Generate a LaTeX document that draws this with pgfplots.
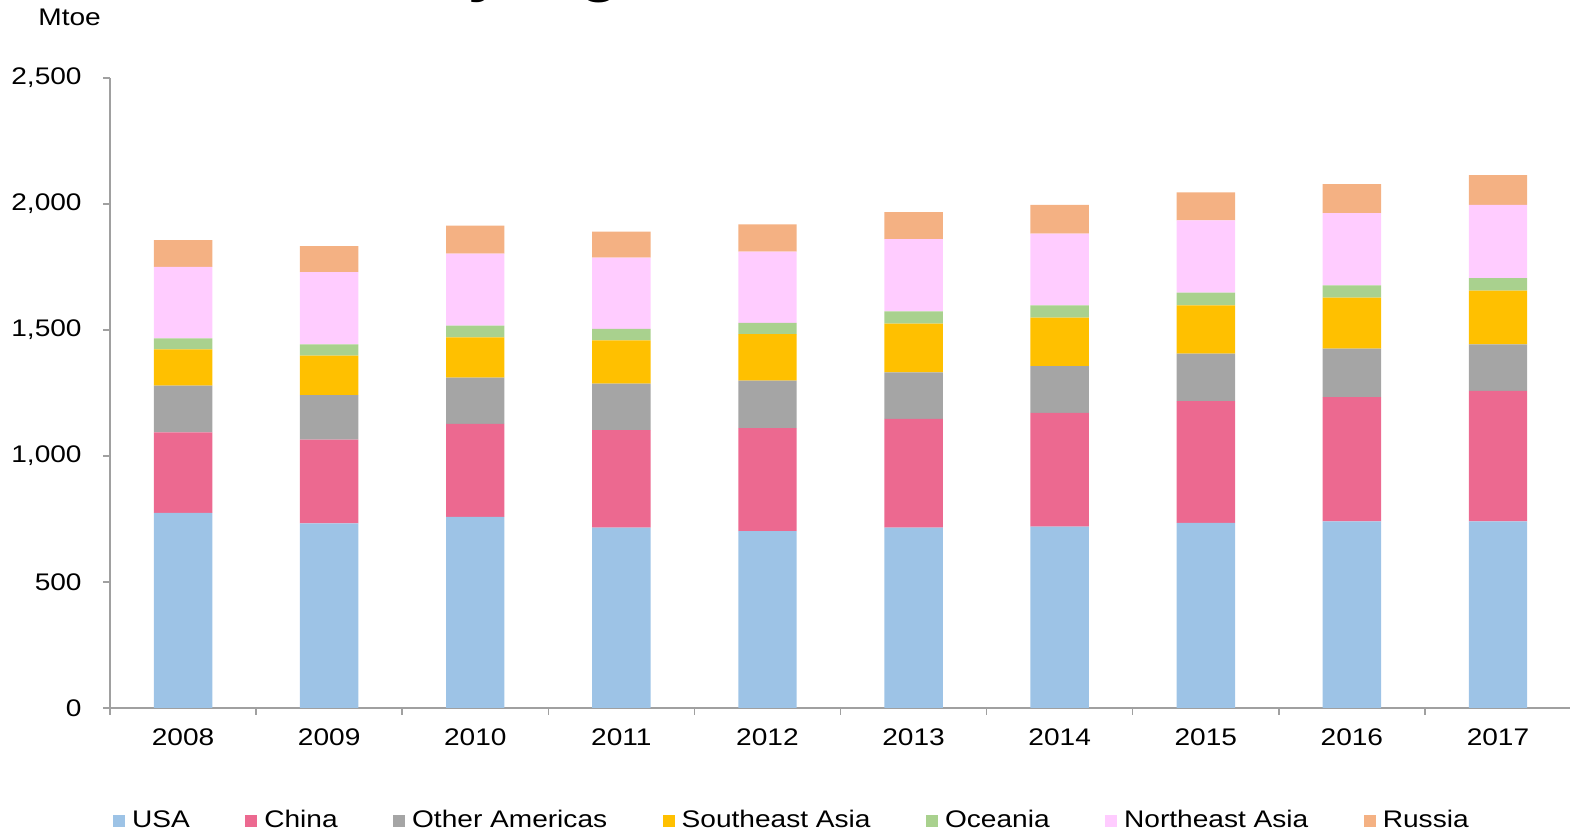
\documentclass[border=0pt]{standalone}
\usepackage{fontspec}
\setmainfont{Liberation Sans}[FakeStretch=1.17]
\usepackage{pgfplots}
\usepackage{pgfplotstable}
\pgfplotsset{compat=1.18}
\definecolor{cUSA}{HTML}{9DC3E6}
\definecolor{cChina}{HTML}{EC6990}
\definecolor{cOA}{HTML}{A5A5A5}
\definecolor{cSEA}{HTML}{FFC000}
\definecolor{cOce}{HTML}{A9D18E}
\definecolor{cNEA}{HTML}{FFCCFF}
\definecolor{cRus}{HTML}{F4B183}
\definecolor{axisgray}{HTML}{A0A0A0}
\pgfplotstableread{
x USA China OA SEA Oce NEA Rus
0 774 320 185 144 44 283 107
1 733 332 177 156 45 287 103
2 758 369 184 160 46 286 111
3 716 387 184 172 45 283 103
4 702 409 188 185 44 283 108
5 716 431 185 193 49 287 107
6 720 451 186 192 49 284 114
7 735 483 188 192 50 287 111
8 741 493 192 202 49 287 115
9 741 517 185 213 50 290 119
}\data
\begin{document}
\fontsize{12}{14}\selectfont
\begin{tikzpicture}
\begin{axis}[
  scale only axis, width=730.5pt, height=315pt,
  ybar stacked, bar width=0.4,
  xmin=-0.5, xmax=9.5, ymin=0, ymax=2500,
  xtick={-0.5,0.5,...,9.5},
  xticklabels={2008,2009,2010,2011,2012,2013,2014,2015,2016,2017},
  x tick label as interval,
  ytick={0,500,...,2500},
  axis x line*=bottom, axis y line*=left,
  axis line style={draw=axisgray, line width=0.75pt, -},
  tick style={draw=axisgray, line width=0.75pt},
  tick align=outside,
  major tick length=3.5pt,
  ticklabel style={font=\fontsize{12}{14}\selectfont},
  yticklabel style={xshift=-6.5pt},
  xticklabel style={yshift=-2.5pt},
  /pgf/number format/.cd, 1000 sep={,}, assume math mode=true,
  /pgfplots/.cd,
  clip=false,
  legend columns=7,
  legend style={draw=none, fill=none, at={(0.466,-0.1794)}, anchor=center,
    font=\fontsize{12}{14}\selectfont, nodes={inner sep=0pt},
    /tikz/every odd column/.append style={column sep=3.5pt},
    /tikz/every even column/.append style={column sep=27.75pt}},
  legend image code/.code={\fill[#1] (0pt,-3pt) rectangle (6pt,3pt);},
]
\addplot[fill=cUSA, draw=none] table[x=x,y=USA]{\data};
\addplot[fill=cChina, draw=none] table[x=x,y=China]{\data};
\addplot[fill=cOA, draw=none] table[x=x,y=OA]{\data};
\addplot[fill=cSEA, draw=none] table[x=x,y=SEA]{\data};
\addplot[fill=cOce, draw=none] table[x=x,y=Oce]{\data};
\addplot[fill=cNEA, draw=none] table[x=x,y=NEA]{\data};
\addplot[fill=cRus, draw=none] table[x=x,y=Rus]{\data};
\legend{USA,China,Other Americas,Southeast Asia,Oceania,Northeast Asia,Russia}
\node[anchor=base west, inner sep=0pt, font=\fontsize{12}{14}\selectfont] at (axis cs:-0.993,2710) {Mtoe};
\node[anchor=base west, inner sep=0pt, font=\fontsize{27}{30}\selectfont\bfseries] at (axis cs:1.686,2845) {by region};
\coordinate (BL) at (axis cs:-1.253,-492);
\coordinate (TR) at (axis cs:9.493,2809.5);
\end{axis}
\pgfresetboundingbox
\path[use as bounding box] (BL) rectangle (TR);
\end{tikzpicture}
\end{document}
